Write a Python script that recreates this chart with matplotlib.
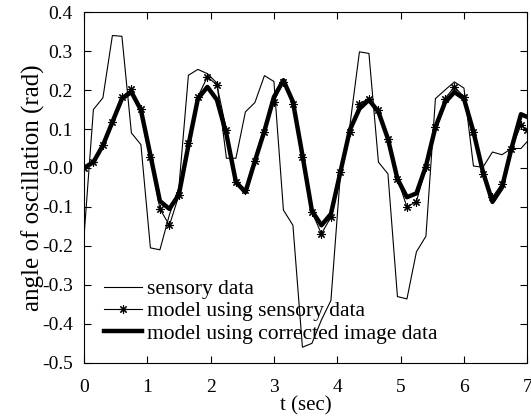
import numpy as np
import matplotlib
matplotlib.use("Agg")
import matplotlib.pyplot as plt

plt.rcParams['font.family'] = ['Liberation Serif', 'DejaVu Serif']
plt.rcParams['axes.unicode_minus'] = False

# sample times (sec)
t = [0.0, 0.15, 0.3, 0.45, 0.6, 0.75, 0.9, 1.05, 1.2, 1.35, 1.5, 1.65,
     1.8, 1.95, 2.1, 2.25, 2.4, 2.55, 2.7, 2.85, 3.0, 3.15, 3.3, 3.45,
     3.6, 3.75, 3.9, 4.05, 4.2, 4.35, 4.5, 4.65, 4.8, 4.95, 5.1, 5.25,
     5.4, 5.55, 5.7, 5.85, 6.0, 6.15, 6.3, 6.45, 6.6, 6.75, 6.9, 7.0]

# sensory data (rad)
sensory = [-0.18, 0.15, 0.18, 0.34, 0.338, 0.09, 0.06, -0.205, -0.21, -0.12,
           -0.05, 0.238, 0.253, 0.242, 0.218, 0.025, 0.025, 0.144, 0.168, 0.237,
           0.222, -0.108, -0.147, -0.46, -0.45, -0.39, -0.34, -0.015, 0.11, 0.298,
           0.294, 0.015, -0.015, -0.33, -0.336, -0.215, -0.175, 0.178, 0.20, 0.221,
           0.205, 0.005, 0.002, 0.041, 0.034, 0.05, 0.05, 0.068]

# model driven by sensory data
model_sensory = [0.0, 0.015, 0.058, 0.118, 0.183, 0.202, 0.152, 0.028, -0.105, -0.147,
                 -0.07, 0.063, 0.183, 0.234, 0.213, 0.097, -0.036, -0.057, 0.018, 0.093,
                 0.17, 0.221, 0.165, 0.028, -0.113, -0.169, -0.126, -0.01, 0.093, 0.165,
                 0.178, 0.149, 0.075, -0.027, -0.1, -0.086, 0.003, 0.105, 0.178, 0.208,
                 0.183, 0.093, -0.015, -0.075, -0.04, 0.05, 0.11, 0.098]

# model driven by corrected image data
model_image = [0.0, 0.015, 0.058, 0.118, 0.178, 0.195, 0.149, 0.033, -0.085, -0.105,
               -0.068, 0.058, 0.178, 0.208, 0.175, 0.087, -0.036, -0.062, 0.018, 0.095,
               0.182, 0.225, 0.17, 0.033, -0.11, -0.147, -0.118, -0.01, 0.098, 0.152,
               0.175, 0.144, 0.075, -0.028, -0.075, -0.065, 0.005, 0.105, 0.168, 0.195,
               0.178, 0.093, -0.01, -0.087, -0.05, 0.05, 0.138, 0.131]

fig = plt.figure(figsize=(5.31, 4.18), dpi=100)
ax = fig.add_axes([0.158, 0.132, 0.835, 0.839])

ax.plot(t, sensory, 'k-', lw=0.8, label='sensory data')
ax.plot(t, model_sensory, 'k-', lw=0.8, marker=(8, 2, 0), ms=6, mew=0.8,
        label='model using sensory data')
ax.plot(t, model_image, 'k-', lw=3.2, label='model using corrected image data')

ax.set_xlim(0, 7)
ax.set_ylim(-0.5, 0.4)
ax.set_xticks(range(0, 8))
ax.set_yticks(np.round(np.arange(-0.5, 0.41, 0.1), 1))
ax.yaxis.set_major_formatter(matplotlib.ticker.FormatStrFormatter('%.1f'))
ax.tick_params(direction='in', top=True, right=True, length=5, width=0.8,
               labelsize=14)
ax.tick_params(axis='y', pad=8)
ax.tick_params(axis='x', pad=12)
for s in ax.spines.values():
    s.set_linewidth(0.8)

ax.set_xlabel('t (sec)', fontsize=15, labelpad=0)
ax.set_ylabel('angle of oscillation (rad)', fontsize=18, labelpad=-2)

ax.legend(loc='lower left', frameon=False, fontsize=15.5, handlelength=1.75,
          handletextpad=0.25, labelspacing=0.1, borderaxespad=0,
          bbox_to_anchor=(0.026, 0.03))

fig.savefig('out.png', dpi=100)
